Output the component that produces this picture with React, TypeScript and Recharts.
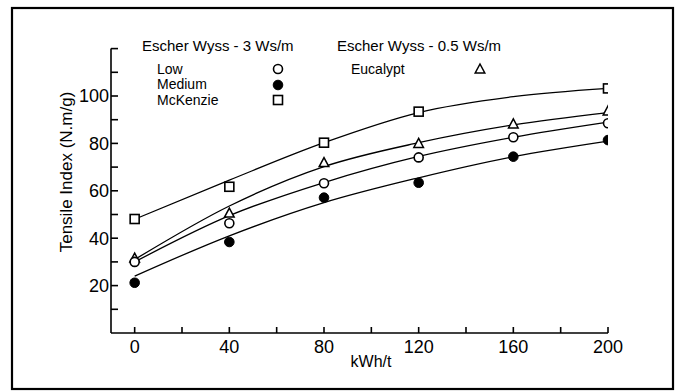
import React from 'react';
import { ComposedChart, Line, Scatter, XAxis, YAxis } from 'recharts';

// Measured points
const lowPts = [
  { x: 0, y: 30 }, { x: 40, y: 46.3 }, { x: 80, y: 63.2 }, { x: 120, y: 74.1 }, { x: 160, y: 82.6 }, { x: 200, y: 88.5 },
];
const mediumPts = [
  { x: 0, y: 21.2 }, { x: 40, y: 38.4 }, { x: 80, y: 57.1 }, { x: 120, y: 63.4 }, { x: 160, y: 74.4 }, { x: 200, y: 81.4 },
];
const mckenziePts = [
  { x: 0, y: 48.1 }, { x: 40, y: 61.7 }, { x: 80, y: 80.3 }, { x: 120, y: 93.4 }, { x: 200, y: 103.2 },
];
const eucalyptPts = [
  { x: 0, y: 31.6 }, { x: 40, y: 50.6 }, { x: 80, y: 71.9 }, { x: 120, y: 80 }, { x: 160, y: 88.2 }, { x: 200, y: 93.7 },
];

// Fitted curves
const lowFit = [
  { x: 0, y: 30 }, { x: 40, y: 49.5 }, { x: 80, y: 63.5 }, { x: 120, y: 74.5 }, { x: 160, y: 82.6 }, { x: 200, y: 89 },
];
const mediumFit = [
  { x: 0, y: 24 }, { x: 40, y: 41 }, { x: 80, y: 55 }, { x: 120, y: 65.5 }, { x: 160, y: 74.4 }, { x: 200, y: 81 },
];
const mckenzieFit = [
  { x: 0, y: 48 }, { x: 40, y: 64.5 }, { x: 80, y: 80.3 }, { x: 120, y: 93 }, { x: 160, y: 99.7 }, { x: 200, y: 103.2 },
];
const eucalyptFit = [
  { x: 0, y: 31 }, { x: 40, y: 53.6 }, { x: 80, y: 70.2 }, { x: 120, y: 80.3 }, { x: 160, y: 87.8 }, { x: 200, y: 93 },
];

const xTicks = [0, 20, 40, 60, 80, 100, 120, 140, 160, 180, 200];
const yTicks = [10, 20, 30, 40, 50, 60, 70, 80, 90, 100, 110, 120];
const xLabelled = [0, 40, 80, 120, 160, 200];
const yLabelled = [20, 40, 60, 80, 100];

const FONT = '"Liberation Sans", Arial, Helvetica, sans-serif';

const OpenCircle = (p: any) => <circle cx={p.cx} cy={p.cy} r={4.5} fill="#fff" stroke="#000" strokeWidth={1.6} />;
const FilledCircle = (p: any) => <circle cx={p.cx} cy={p.cy} r={4.8} fill="#000" stroke="#000" strokeWidth={1} />;
const OpenSquare = (p: any) => (
  <rect x={p.cx - 4.5} y={p.cy - 4.5} width={9} height={9} fill="#fff" stroke="#000" strokeWidth={1.6} />
);
const OpenTriangle = (p: any) => (
  <path d={`M${p.cx},${p.cy - 5} L${p.cx + 4.8},${p.cy + 4} L${p.cx - 4.8},${p.cy + 4} Z`} fill="#fff" stroke="#000" strokeWidth={1.5} />
);

export default function App() {
  return (
    <div style={{ position: 'absolute', left: 0, top: 0, width: 682, height: 391, background: '#fff', fontFamily: FONT }}>
      <ComposedChart
        width={682}
        height={391}
        margin={{ top: 48.6, right: 74, bottom: 28, left: 61 }}
      >
        <XAxis
          type="number"
          dataKey="x"
          domain={[-10, 200]}
          ticks={xTicks}
          allowDataOverflow
          tickSize={-6}
          tickMargin={13}
          height={30}
          stroke="#000"
          strokeWidth={1.6}
          tick={{ fill: '#000', fontSize: 18, fontFamily: FONT }}
          tickFormatter={(v: number) => (xLabelled.includes(v) ? String(v) : '')}
          label={{
            content: () => (
              <text x={371} y={367} textAnchor="middle" fontSize={16} fontFamily={FONT} fill="#000">kWh/t</text>
            ),
          }}
        />
        <YAxis
          type="number"
          dataKey="y"
          domain={[0, 120]}
          ticks={yTicks}
          allowDataOverflow
          tickSize={-7}
          tickMargin={9}
          width={50}
          stroke="#000"
          strokeWidth={1.6}
          tick={{ fill: '#000', fontSize: 18, fontFamily: FONT }}
          tickFormatter={(v: number) => (yLabelled.includes(v) ? String(v) : '')}
          label={{
            content: () => (
              <text x={72} y={172} transform="rotate(-90 72 172)" textAnchor="middle" fontSize={17} fontFamily={FONT} fill="#000">
                Tensile Index (N.m/g)
              </text>
            ),
          }}
        />
        <Line data={mckenzieFit} dataKey="y" type="monotone" stroke="#000" strokeWidth={1.3} dot={false} isAnimationActive={false} />
        <Line data={eucalyptFit} dataKey="y" type="monotone" stroke="#000" strokeWidth={1.3} dot={false} isAnimationActive={false} />
        <Line data={lowFit} dataKey="y" type="monotone" stroke="#000" strokeWidth={1.3} dot={false} isAnimationActive={false} />
        <Line data={mediumFit} dataKey="y" type="monotone" stroke="#000" strokeWidth={1.3} dot={false} isAnimationActive={false} />
        <Scatter data={mckenziePts} dataKey="y" shape={OpenSquare} isAnimationActive={false} />
        <Scatter data={eucalyptPts} dataKey="y" shape={OpenTriangle} isAnimationActive={false} />
        <Scatter data={lowPts} dataKey="y" shape={OpenCircle} isAnimationActive={false} />
        <Scatter data={mediumPts} dataKey="y" shape={FilledCircle} isAnimationActive={false} />
      </ComposedChart>
      <svg
        width={682}
        height={391}
        style={{ position: 'absolute', left: 0, top: 0, pointerEvents: 'none' }}
        fontFamily={FONT}
      >
        <rect x={12} y={8} width={661} height={381} fill="none" stroke="#000" strokeWidth={2.2} />
        <g fontSize={15} fill="#000">
          <text x={142} y={51}>Escher Wyss - 3 Ws/m</text>
          <text x={337} y={51}>Escher Wyss - 0.5 Ws/m</text>
        </g>
        <g fontSize={14} fill="#000">
          <text x={157} y={73.5}>Low</text>
          <text x={157} y={89}>Medium</text>
          <text x={157} y={104.5}>McKenzie</text>
          <text x={351} y={73.5}>Eucalypt</text>
        </g>
        <OpenCircle cx={278} cy={69} />
        <FilledCircle cx={278} cy={85} />
        <OpenSquare cx={278} cy={100} />
        <OpenTriangle cx={480} cy={69} />
      </svg>
    </div>
  );
}
